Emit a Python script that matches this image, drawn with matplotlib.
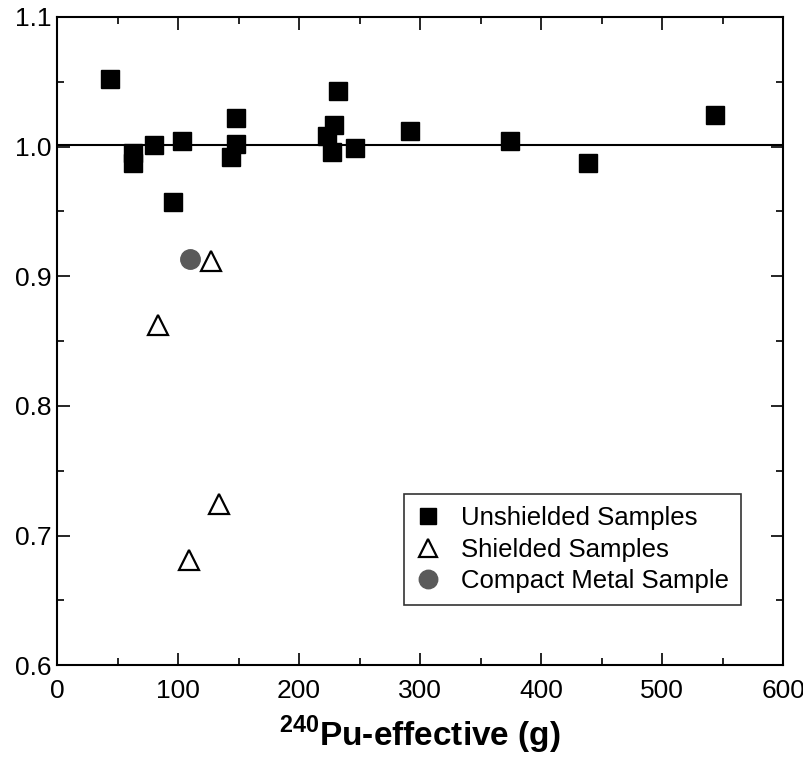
import numpy as np
import matplotlib
matplotlib.use("Agg")
import matplotlib.pyplot as plt
from matplotlib.ticker import MultipleLocator

plt.rcParams['font.family'] = ['Liberation Sans', 'DejaVu Sans']
plt.rcParams['mathtext.fontset'] = 'custom'
plt.rcParams['mathtext.bf'] = 'Liberation Sans:bold'
plt.rcParams['mathtext.rm'] = 'Liberation Sans'

# Unshielded samples
unsh_x = [44, 63, 63, 80, 103, 96, 148, 148, 144, 232, 229, 223, 227, 246, 292, 374, 439, 544]
unsh_y = [1.052, 0.995, 0.987, 1.001, 1.004, 0.957, 1.022, 1.002, 0.992, 1.043, 1.017, 1.008,
          0.996, 0.999, 1.012, 1.004, 0.987, 1.024]

# Shielded samples
sh_x = [127, 83, 134, 109]
sh_y = [0.912, 0.862, 0.724, 0.681]

# Compact metal sample
cm_x = [110]
cm_y = [0.913]

ref_y = 1.001

fig = plt.figure(figsize=(8.04, 7.69), dpi=100)
ax = fig.add_axes([0.071, 0.135, 0.903, 0.843])

ax.axhline(ref_y, color='black', lw=1.5, zorder=1)
ax.plot(unsh_x, unsh_y, 's', color='black', ms=12.5, ls='none', label='Unshielded Samples', zorder=3)
ax.plot(sh_x, sh_y, '^', mfc='white', mec='black', mew=1.6, ms=14, ls='none',
        label='Shielded Samples', zorder=3)
ax.plot(cm_x, cm_y, 'o', color='#5a5a5a', ms=14, ls='none', label='Compact Metal Sample', zorder=3)

ax.set_xlim(0, 600)
ax.set_ylim(0.6, 1.1)
ax.xaxis.set_major_locator(MultipleLocator(100))
ax.xaxis.set_minor_locator(MultipleLocator(50))
ax.yaxis.set_major_locator(MultipleLocator(0.1))
ax.yaxis.set_minor_locator(MultipleLocator(0.05))
ax.tick_params(which='both', direction='in', top=True, right=True, width=1.2)
ax.tick_params(which='major', length=9, labelsize=19)
ax.tick_params(axis='x', which='major', pad=10)
ax.tick_params(axis='y', which='major', pad=4)
ax.yaxis.set_major_formatter(plt.FuncFormatter(lambda v, p: '%.1f' % v))
ax.tick_params(which='minor', length=5)
for s in ax.spines.values():
    s.set_linewidth(1.5)

ax.set_xlabel(r'$^{\mathbf{240}}$Pu-effective (g)', fontsize=24, fontweight='bold', labelpad=8)

leg = ax.legend(loc='lower right', bbox_to_anchor=(0.942, 0.093), borderaxespad=0,
                frameon=True, fancybox=False, edgecolor='black', handletextpad=0.8,
                borderpad=0.45, labelspacing=0.3, handlelength=1.0, markerscale=0.95,
                prop={'size': 18.5})
leg.get_frame().set_linewidth(1.2)

fig.savefig('out.png', dpi=100)
